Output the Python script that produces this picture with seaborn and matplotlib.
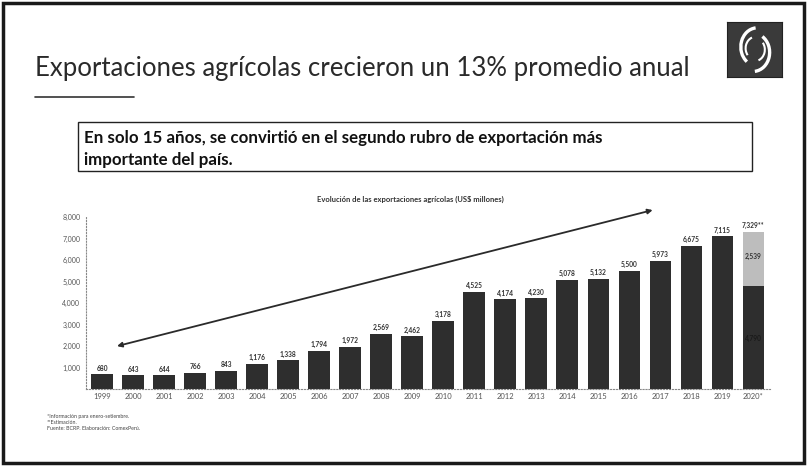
import matplotlib
matplotlib.use("Agg")
import matplotlib.pyplot as plt
from matplotlib.patches import Rectangle, Arc
import seaborn as sns
import pandas as pd
import numpy as np

years = ["1999", "2000", "2001", "2002", "2003", "2004", "2005", "2006", "2007", "2008",
         "2009", "2010", "2011", "2012", "2013", "2014", "2015", "2016", "2017", "2018",
         "2019", "2020*"]
base_values = [680, 643, 644, 766, 843, 1176, 1338, 1794, 1972, 2569,
               2462, 3178, 4525, 4174, 4230, 5078, 5132, 5500, 5973, 6675,
               7115, 4790]
estimate_values = [0] * 21 + [2539]
label_texts = ["680", "643", "644", "766", "843", "1,176", "1,338", "1,794", "1,972", "2,569",
               "2,462", "3,178", "4,525", "4,174", "4,230", "5,078", "5,132", "5,500", "5,973",
               "6,675", "7,115", "7,329**"]
y_ticks = [1000, 2000, 3000, 4000, 5000, 6000, 7000, 8000]
y_tick_labels = ["1,000", "2,000", "3,000", "4,000", "5,000", "6,000", "7,000", "8,000"]

df = pd.DataFrame({"year": years, "base": base_values, "est": estimate_values})
df["total"] = df["base"] + df["est"]

sns.set_theme(style="white")
plt.rcParams["font.family"] = ["Lato", "DejaVu Sans"]

fig = plt.figure(figsize=(8.07, 4.66), dpi=100)
fig.patch.set_facecolor("white")

# slide frame
fig.add_artist(Rectangle((0.004, 0.006), 0.992, 0.988, transform=fig.transFigure,
                         fill=False, edgecolor="#1a1a1a", linewidth=2.5))

# title
fig.text(0.043, 0.852, "Exportaciones agrícolas crecieron un 13% promedio anual",
         fontsize=18.5, color="#2a2a2a", fontweight="normal", ha="left", va="center")
fig.add_artist(plt.Line2D([0.043, 0.166], [0.792, 0.792], transform=fig.transFigure,
                          color="#333333", linewidth=1.2))

# logo
lax = fig.add_axes([0.901, 0.835, 0.068, 0.117])
lax.set_xlim(-1, 1); lax.set_ylim(-1, 1)
lax.set_xticks([]); lax.set_yticks([])
lax.set_facecolor("#3a3a3a")
for s in lax.spines.values():
    s.set_color("#222222"); s.set_linewidth(0.8)
lax.add_patch(Arc((0.1, 0.1), 1.2, 1.4, theta1=95, theta2=235, color="white", lw=2.4))
lax.add_patch(Arc((-0.05, -0.1), 1.2, 1.4, theta1=275, theta2=60, color="white", lw=2.4))
lax.add_patch(Arc((0.05, 0.05), 0.75, 0.85, theta1=110, theta2=220, color="white", lw=1.5))
lax.add_patch(Arc((0.0, 0.0), 0.75, 0.85, theta1=290, theta2=40, color="white", lw=1.5))

# message box
fig.add_artist(Rectangle((0.097, 0.632), 0.835, 0.106, transform=fig.transFigure,
                         facecolor="white", edgecolor="#222222", linewidth=1.0))
fig.text(0.104, 0.703, "En solo 15 años, se convirtió en el segundo rubro de exportación más",
         fontsize=12.2, fontweight="bold", color="#111111", ha="left", va="center")
fig.text(0.104, 0.656, "importante del país.",
         fontsize=12.2, fontweight="bold", color="#111111", ha="left", va="center")

# chart
ax = fig.add_axes([0.1066, 0.165, 0.847, 0.369])
sns.barplot(data=df, x="year", y="total", color="#bdbdbd", saturation=1, width=0.7,
            ax=ax, edgecolor="none")
sns.barplot(data=df, x="year", y="base", color="#2e2e2e", saturation=1, width=0.7,
            ax=ax, edgecolor="none")

ax.set_xlim(-0.52, 21.52)
ax.set_ylim(0, 8000)
ax.set_yticks(y_ticks)
ax.set_yticklabels(y_tick_labels)
ax.set_xlabel("")
ax.set_ylabel("")
ax.tick_params(axis="y", labelsize=5, colors="#555555", length=2, width=0.5, pad=2)
ax.tick_params(axis="x", labelsize=5.5, colors="#555555", length=0, pad=3)
for s in ["top", "right"]:
    ax.spines[s].set_visible(False)
for s in ["left", "bottom"]:
    ax.spines[s].set_linestyle(":")
    ax.spines[s].set_color("#888888")
    ax.spines[s].set_linewidth(0.8)
ax.set_facecolor("none")

for i, (tot, txt) in enumerate(zip(df["total"], label_texts)):
    ax.text(i, tot + 120, txt, ha="center", va="bottom", fontsize=4.8,
            fontweight="bold", color="#333333")
ax.text(21, 4790 + 2539 * 0.55, "2,539", ha="center", va="center", fontsize=4.8,
        fontweight="bold", color="#333333")
ax.text(21, 2370, "4,790", ha="center", va="center", fontsize=4.8,
        fontweight="bold", color="#1a1a1a")

ax.set_title("Evolución de las exportaciones agrícolas (US$ millones)", fontsize=5.5,
             fontweight="bold", color="#333333", pad=11, x=0.475)

ax.annotate("", xy=(0.48, 2000), xytext=(17.75, 8330),
            arrowprops=dict(arrowstyle="<|-|>", color="#2a2a2a", lw=1.3,
                            mutation_scale=7, shrinkA=0, shrinkB=0),
            annotation_clip=False)

fig.text(0.058, 0.093, "*Información para enero-setiembre.\n**Estimación.\nFuente: BCRP. Elaboración: ComexPerú.",
         fontsize=3.8, color="#444444", ha="left", va="center", linespacing=1.3)

fig.savefig("out.png", dpi=100)
